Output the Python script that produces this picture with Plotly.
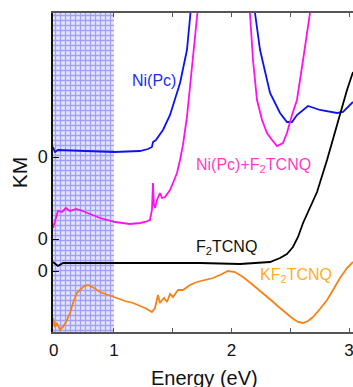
import plotly.graph_objects as go

# ---------------- data (Energy in eV, KM in arbitrary offset units) ----------------
nipc_e = [0.481, 0.498, 0.523, 0.711, 1.0, 1.221, 1.289, 1.323, 1.332, 1.357, 1.417, 1.477,
          1.562, 1.621, 1.647, 1.70, 1.95, 2.17, 2.200, 2.243, 2.328, 2.413, 2.472, 2.515,
          2.557, 2.651, 2.753, 2.898, 2.949, 3.034]
nipc_km = [1.85, 1.80, 1.82, 1.81, 1.80, 1.81, 1.83, 1.85, 1.90, 1.92, 2.02, 2.17,
           2.49, 2.82, 3.19, 3.8, 6.0, 3.6, 3.19, 2.82, 2.39, 2.19, 2.10, 2.10,
           2.17, 2.26, 2.22, 2.19, 2.20, 2.30]

mix_e = [0.481, 0.498, 0.523, 0.557, 0.591, 0.626, 0.677, 0.711, 0.796, 0.881, 1.009, 1.136,
         1.221, 1.264, 1.306, 1.323, 1.332, 1.340, 1.349, 1.366, 1.391, 1.409, 1.434, 1.477,
         1.502, 1.536, 1.562, 1.587, 1.621, 1.664, 1.706, 1.75, 1.95, 2.12, 2.157, 2.183,
         2.217, 2.260, 2.302, 2.345, 2.387, 2.438, 2.472, 2.515, 2.557, 2.609, 2.668, 2.70]
mix_km = [1.04, 1.10, 1.21, 1.20, 1.24, 1.21, 1.23, 1.22, 1.18, 1.14, 1.10, 1.08,
          1.09, 1.10, 1.12, 1.22, 1.49, 1.27, 1.24, 1.32, 1.39, 1.34, 1.35, 1.42,
          1.49, 1.59, 1.72, 1.87, 2.15, 2.65, 3.19, 3.7, 6.0, 3.6, 3.19, 2.72,
          2.32, 2.12, 1.99, 1.92, 1.86, 1.89, 1.99, 2.17, 2.32, 2.72, 3.19, 3.6]

f2_e = [0.481, 0.523, 0.566, 1.0, 1.732, 2.072, 2.243, 2.328, 2.413, 2.472, 2.523, 2.566,
        2.609, 2.668, 2.728, 2.813, 2.898, 2.983, 3.034]
f2_km = [0.70, 0.66, 0.69, 0.69, 0.69, 0.68, 0.69, 0.70, 0.74, 0.78, 0.85, 0.95,
         1.09, 1.25, 1.40, 1.72, 2.07, 2.42, 2.60]

kf2_e = [0.481, 0.498, 0.515, 0.540, 0.566, 0.591, 0.626, 0.651, 0.685, 0.711, 0.736, 0.779,
         0.830, 0.881, 0.949, 1.009, 1.094, 1.162, 1.264, 1.323, 1.349, 1.374, 1.391, 1.409,
         1.426, 1.451, 1.477, 1.502, 1.545, 1.587, 1.647, 1.706, 1.843, 1.919, 1.970, 2.030,
         2.098, 2.183, 2.268, 2.345, 2.413, 2.515, 2.566, 2.609, 2.651, 2.694, 2.753, 2.813,
         2.864, 2.923, 2.983, 3.034]
kf2_km = [0.14, 0.05, 0.09, 0.02, 0.05, 0.10, 0.19, 0.29, 0.39, 0.42, 0.45, 0.47,
          0.44, 0.40, 0.37, 0.34, 0.31, 0.29, 0.24, 0.20, 0.24, 0.37, 0.29, 0.32,
          0.34, 0.30, 0.38, 0.35, 0.42, 0.42, 0.47, 0.50, 0.54, 0.58, 0.61, 0.60,
          0.55, 0.47, 0.39, 0.31, 0.24, 0.14, 0.10, 0.09, 0.11, 0.15, 0.23, 0.32,
          0.42, 0.54, 0.64, 0.70]

shade_e = [0.481, 1.0, 1.0, 0.481]
shade_km = [0.0, 0.0, 3.19, 3.19]

zero_ticks = [1.75, 0.93, 0.61]
x_ticks = [1, 1.5, 2, 2.5, 3]
x_labels = ["1", "", "2", "", "3"]

X_RANGE = [0.481, 3.034]
Y_RANGE = [0.0, 3.19]

fig = go.Figure()

fig.add_trace(go.Scatter(
    x=shade_e, y=shade_km, fill="toself", mode="none",
    fillcolor="#e4e4ff",
    fillpattern=dict(shape="+", fgcolor="#5c5cf4", bgcolor="#e4e4ff",
                     size=5, solidity=0.45),
    hoverinfo="skip", showlegend=False))

line_w = 1.8
fig.add_trace(go.Scatter(x=nipc_e, y=nipc_km, mode="lines", line=dict(color="#0a14f0", width=line_w), showlegend=False))
fig.add_trace(go.Scatter(x=mix_e, y=mix_km, mode="lines", line=dict(color="#ff10f0", width=line_w), showlegend=False))
fig.add_trace(go.Scatter(x=f2_e, y=f2_km, mode="lines", line=dict(color="#000000", width=line_w), showlegend=False))
fig.add_trace(go.Scatter(x=kf2_e, y=kf2_km, mode="lines", line=dict(color="#f58218", width=line_w), showlegend=False))

font_family = "Liberation Sans, Arial, sans-serif"
lab = 16
fig.add_annotation(x=1.34, y=2.52, text="Ni(Pc)", showarrow=False, font=dict(size=lab, color="#1c2ee6", family=font_family))
fig.add_annotation(x=2.19, y=1.67, text="Ni(Pc)+F<sub>2</sub>TCNQ", showarrow=False, font=dict(size=lab, color="#ff3cc8", family=font_family))
fig.add_annotation(x=1.96, y=0.85, text="F<sub>2</sub>TCNQ", showarrow=False, font=dict(size=lab, color="#111111", family=font_family))
fig.add_annotation(x=2.55, y=0.57, text="KF<sub>2</sub>TCNQ", showarrow=False, font=dict(size=lab, color="#ffae1c", family=font_family))

# the "0" below the bottom-left corner
fig.add_annotation(xref="paper", yref="paper", x=-0.02, y=-0.058, yanchor="middle", text="0", showarrow=False,
                   font=dict(size=17, color="#111111", family=font_family))
# x axis title (partly below the page edge, as in the original)
fig.add_annotation(xref="paper", yref="paper", x=0.505, y=-0.145, yanchor="middle", text="Energy (eV)",
                   showarrow=False, font=dict(size=20, color="#111111", family=font_family))

fig.update_layout(
    width=353, height=387,
    margin=dict(l=53, r=0, t=13, b=55, autoexpand=False),
    paper_bgcolor="white", plot_bgcolor="white",
    font=dict(family=font_family, color="#111111"),
    xaxis=dict(range=X_RANGE, tickvals=x_ticks, ticktext=x_labels, ticks="inside", ticklen=4,
               tickcolor="#555555", showline=True, linecolor="#555555", linewidth=1.5, mirror="ticks",
               showgrid=False, zeroline=False, tickfont=dict(size=17), automargin=False,
               ticklabeloverflow="allow", ticklabelstandoff=2),
    yaxis=dict(range=Y_RANGE, tickvals=zero_ticks, ticktext=["0", "0", "0"], ticks="inside", ticklen=6,
               tickcolor="#111111", showline=True, linecolor="#111111", linewidth=1.5, mirror=False,
               showgrid=False, zeroline=False, tickfont=dict(size=18), automargin=False,
               title=dict(text="KM", font=dict(size=21), standoff=4)),
)

fig.write_html("out.html",
               config={"displayModeBar": False},
               post_script="document.body.style.margin='0';document.body.style.overflow='hidden';")
